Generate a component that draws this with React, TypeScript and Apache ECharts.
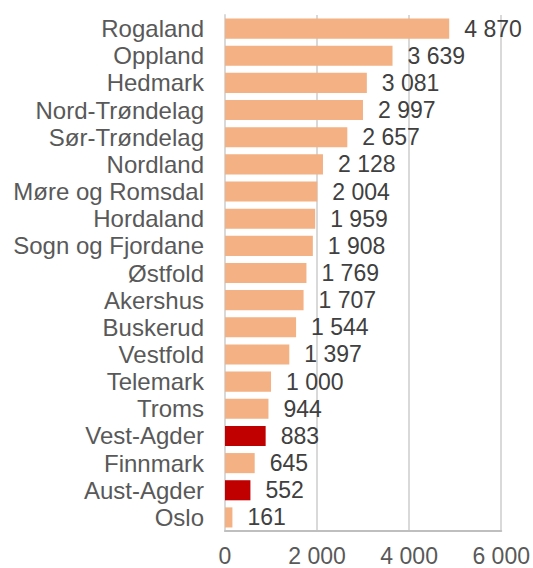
import React, { useEffect, useRef } from "react";
import * as echarts from "echarts";

const categories = [
  "Rogaland", "Oppland", "Hedmark", "Nord-Trøndelag", "Sør-Trøndelag", "Nordland",
  "Møre og Romsdal", "Hordaland", "Sogn og Fjordane", "Østfold", "Akershus", "Buskerud",
  "Vestfold", "Telemark", "Troms", "Vest-Agder", "Finnmark", "Aust-Agder", "Oslo",
];
const values = [4870, 3639, 3081, 2997, 2657, 2128, 2004, 1959, 1908, 1769, 1707, 1544, 1397, 1000, 944, 883, 645, 552, 161];
const highlighted = ["Vest-Agder", "Aust-Agder"];
const xTicks = [0, 2000, 4000, 6000];

const FONT = "'Liberation Sans', Arial, sans-serif";
const fmt = (v: number) => String(Math.round(v)).replace(/\B(?=(\d{3})+(?!\d))/g, " ");

export default function App() {
  const ref = useRef<HTMLDivElement>(null);
  useEffect(() => {
    if (!ref.current) return;
    document.body.style.margin = "0";
    const chart = echarts.init(ref.current, undefined, { renderer: "svg" });
    const cats = [...categories].reverse();
    const vals = [...values].reverse();
    chart.setOption({
      animation: false,
      textStyle: { fontFamily: FONT },
      grid: { left: 225, right: 31, top: 15, bottom: 37, containLabel: false },
      xAxis: {
        type: "value",
        min: xTicks[0],
        max: xTicks[xTicks.length - 1],
        interval: 2000,
        axisLine: { show: true, lineStyle: { color: "#bfbfbf", width: 2 } },
        axisTick: { show: false },
        splitLine: { lineStyle: { color: "#d9d9d9", width: 2 } },
        axisLabel: {
          color: "#595959", fontSize: 23, fontFamily: FONT, margin: 13,
          formatter: (v: number) => fmt(v),
        },
      },
      yAxis: {
        type: "category",
        data: cats,
        axisLine: { show: true, onZero: false, lineStyle: { color: "#d9d9d9", width: 2 } },
        axisTick: { show: false },
        axisLabel: { color: "#595959", fontSize: 24, fontFamily: FONT, margin: 21, interval: 0 },
      },
      series: [
        {
          type: "bar",
          barCategoryGap: "26%",
          data: vals.map((v, i) => ({
            value: v,
            itemStyle: { color: highlighted.includes(cats[i]) ? "#C00000" : "#F4B183" },
          })),
          label: {
            show: true,
            position: "right",
            distance: 15,
            color: "#404040",
            fontSize: 23,
            fontFamily: FONT,
            formatter: (p: any) => fmt(p.value),
          },
        },
      ],
    });
    return () => chart.dispose();
  }, []);
  return <div ref={ref} style={{ width: 533, height: 568 }} />;
}
